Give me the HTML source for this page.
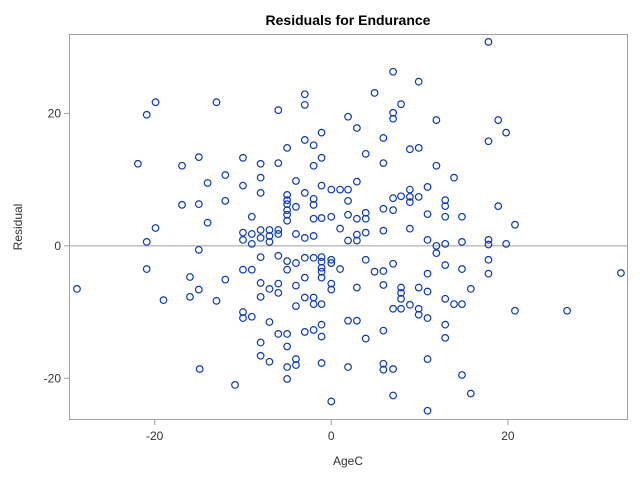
<!DOCTYPE html>
<html><head><meta charset="utf-8"><style>
body{margin:0;background:#fff;}
svg text{font-family:"Liberation Sans",sans-serif;}
</style></head><body>
<svg id="chart" width="640" height="480">
<rect x="0" y="0" width="640" height="480" fill="#fff"/>
<text x="348" y="25" text-anchor="middle" font-size="14" font-weight="bold" fill="#000">Residuals for Endurance</text>
<g id="axes"></g>
<g id="marks"></g>
<text x="348" y="465" text-anchor="middle" font-size="12" fill="#333">AgeC</text>
<text x="22" y="227" text-anchor="middle" font-size="12" fill="#333" transform="rotate(-90 22 227)">Residual</text>
</svg>
<script>
const xTicks=[-20,0,20];
const yTicks=[-20,0,20];
const ageC=[-28.8,-21.9,-20.9,-20.9,-20.9,-19.9,-19.9,-19.0,-16.9,-16.9,-16.0,-16.0,-15.0,-15.0,-15.0,-15.0,-14.9,-14.0,-14.0,-13.0,-13.0,-12.0,-12.0,-12.0,-10.9,-10.0,-10.0,-10.0,-10.0,-10.0,-10.0,-10.0,-9.0,-9.0,-9.0,-9.0,-9.0,-8.0,-8.0,-8.0,-8.0,-8.0,-8.0,-8.0,-8.0,-8.0,-8.0,-7.0,-7.0,-7.0,-7.0,-7.0,-7.0,-6.0,-6.0,-6.0,-6.0,-6.0,-6.0,-6.0,-6.0,-5.0,-5.0,-5.0,-5.0,-5.0,-5.0,-5.0,-5.0,-5.0,-5.0,-5.0,-5.0,-5.0,-4.0,-4.0,-4.0,-4.0,-4.0,-4.0,-4.0,-4.0,-3.0,-3.0,-3.0,-3.0,-3.0,-3.0,-3.0,-3.0,-3.0,-2.0,-2.0,-2.0,-2.0,-2.0,-2.0,-2.0,-2.0,-2.0,-2.0,-1.1,-1.1,-1.1,-1.1,-1.1,-1.1,-1.1,-1.1,-1.1,-1.1,-1.1,-1.1,-1.1,0,0,0,0,0,0,0,1.0,1.0,1.0,1.9,1.9,1.9,1.9,1.9,1.9,1.9,2.9,2.9,2.9,2.9,2.9,2.9,2.9,3.9,3.9,3.9,3.9,3.9,3.9,4.9,4.9,5.9,5.9,5.9,5.9,5.9,5.9,5.9,5.9,5.9,7.0,7.0,7.0,7.0,7.0,7.0,7.0,7.0,7.0,7.9,7.9,7.9,7.9,7.9,7.9,8.9,8.9,8.9,8.9,8.9,8.9,9.9,9.9,9.9,9.9,9.9,9.9,10.9,10.9,10.9,10.9,10.9,10.9,10.9,10.9,11.9,11.9,11.9,11.9,12.9,12.9,12.9,12.9,12.9,12.9,12.9,12.9,13.9,13.9,14.8,14.8,14.8,14.8,14.8,15.8,15.8,17.8,17.8,17.8,17.8,17.8,17.8,18.9,18.9,19.8,19.8,20.8,20.8,26.7,32.8];
const residual=[-6.5,12.4,19.8,0.6,-3.5,21.7,2.7,-8.2,12.1,6.2,-4.7,-7.7,13.4,6.3,-0.6,-6.6,-18.6,9.5,3.5,21.7,-8.3,10.7,6.8,-5.1,-21.0,13.3,9.1,2.0,0.9,-3.6,-10.0,-10.9,4.4,1.8,0.3,-3.6,-10.7,12.4,10.3,8.0,2.4,1.2,-1.7,-5.6,-7.7,-14.6,-16.6,2.4,1.5,0.6,-6.5,-11.5,-17.5,20.5,12.5,2.4,1.8,-1.5,-5.7,-7.1,-13.3,14.8,7.7,6.9,6.3,5.4,4.7,3.8,-2.3,-3.6,-13.3,-15.2,-18.3,-20.1,9.8,5.9,1.8,-2.6,-6.0,-9.1,-17.1,-18.0,22.9,21.3,16.0,8.0,1.2,-1.8,-4.8,-7.8,-13.0,15.2,12.1,7.1,6.2,4.1,1.5,-1.8,-7.8,-8.8,-12.7,17.1,13.3,9.1,4.2,-1.7,-2.4,-3.3,-3.9,-4.8,-8.8,-11.9,-13.7,-17.7,8.5,4.4,-2.1,-2.6,-5.7,-6.6,-23.5,8.5,2.6,-3.5,19.5,8.5,6.8,4.7,0.8,-11.3,-18.3,17.8,9.7,4.1,1.7,0.8,-6.3,-11.3,13.9,5.0,4.1,2.0,-2.1,-14.0,23.1,-3.9,16.3,12.5,5.6,2.3,-3.8,-5.9,-12.8,-17.8,-18.7,26.3,20.1,19.2,7.2,5.4,-2.7,-9.5,-18.6,-22.6,21.4,7.5,-6.3,-7.1,-8.0,-9.5,14.6,8.5,7.4,6.6,2.6,-8.9,24.8,14.8,7.4,-6.3,-9.5,-10.4,8.9,4.8,0.9,-4.2,-6.9,-10.9,-17.1,-24.9,19.0,12.1,0.0,-1.1,6.9,6.0,4.4,0.3,-2.9,-8.0,-11.9,-13.9,10.3,-8.8,4.4,0.6,-3.5,-8.8,-19.5,-6.5,-22.3,30.8,15.8,0.9,0.2,-2.1,-4.2,19.0,6.0,17.1,0.3,3.2,-9.8,-9.8,-4.1];
const L=69,R=628,T=34,B=420;
const xMin=-29.7,xMax=33.6,yMin=-26.3,yMax=32.0;
const NS='http://www.w3.org/2000/svg';
function sx(v){return L+(v-xMin)/(xMax-xMin)*(R-L);}
function sy(v){return B-(v-yMin)/(yMax-yMin)*(B-T);}
function mk(tag,attrs,parent){const e=document.createElementNS(NS,tag);for(const k in attrs)e.setAttribute(k,attrs[k]);parent.appendChild(e);return e;}
const ax=document.getElementById('axes');
const frame=mk('rect',{x:L+0.5,y:T+0.5,width:R-L-1,height:B-T-1,fill:'none',stroke:'#a0a0a0','stroke-width':1},ax);


const ref=mk('line',{x1:L,x2:R,y1:sy(0),y2:sy(0),stroke:'#a0a0a0','stroke-width':1},ax);


xTicks.forEach(t=>{
  const x=sx(t);
  const l=mk('line',{x1:x,x2:x,y1:B,y2:B+5,stroke:'#a0a0a0'},ax);
  
  
  const tx=mk('text',{x:x,y:B+20,'text-anchor':'middle','font-size':12,fill:'#333'},ax);
  tx.textContent=t;
  
  
});
yTicks.forEach(t=>{
  const y=sy(t);
  const l=mk('line',{x1:L-5,x2:L,y1:y,y2:y,stroke:'#a0a0a0'},ax);
  
  
  const tx=mk('text',{x:L-8,y:y+4,'text-anchor':'end','font-size':12,fill:'#333'},ax);
  tx.textContent=t;
  
  
});
const mg=document.getElementById('marks');
ageC.forEach((a,i)=>{
  const c=mk('circle',{cx:sx(a),cy:sy(residual[i]),r:3.3,fill:'none',stroke:'#0b3ab0','stroke-width':1.2},mg);
  
  
});
</script>
</body></html>
